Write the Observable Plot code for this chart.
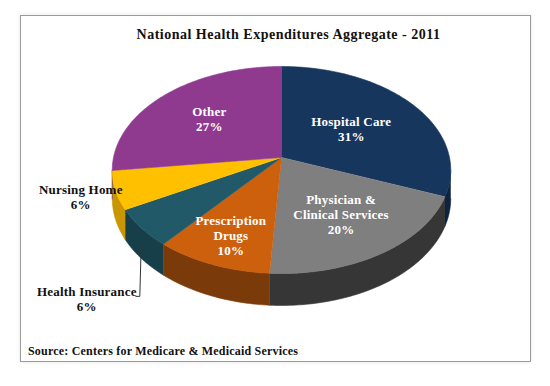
<!DOCTYPE html>
<html><head><meta charset="utf-8">
<script src="https://cdn.jsdelivr.net/npm/d3@7"></script>
<script src="https://cdn.jsdelivr.net/npm/@observablehq/plot@0.6"></script>
<style>
body{margin:0;background:#fff;}
#wrap{position:relative;width:550px;height:386px;overflow:hidden;font-family:"Liberation Serif",serif;}
#frame{position:absolute;left:20px;top:15px;width:511px;height:347px;box-sizing:border-box;border:1.5px solid #9a9a9a;box-shadow:0 0 4px rgba(0,0,0,0.10);}
#title{position:absolute;left:0;width:577px;top:27px;text-align:center;font-weight:bold;font-size:14px;letter-spacing:0.5px;color:#111;}
#source{position:absolute;left:28px;top:344px;font-weight:bold;font-size:12px;letter-spacing:0.2px;color:#111;}
#chart{position:absolute;left:0;top:0;}
#chart text{letter-spacing:0.2px;}
</style></head><body>
<div id="wrap"><div id="frame"></div><div id="title">National Health Expenditures Aggregate - 2011</div><div id="chart"></div><div id="source">Source: Centers for Medicare &amp; Medicaid Services</div></div>
<script>
// ---- data ----
const categories = ["Hospital Care", "Physician &\nClinical Services", "Prescription\nDrugs", "Health Insurance", "Nursing Home", "Other"];
const shares = [31, 20, 10, 6, 6, 27];
const topColors = ["#17365D", "#7F7F7F", "#CD600C", "#215968", "#FFC000", "#8F3A8F"];
const sideColors = ["#0E2340", "#363636", "#7A3A0A", "#173F49", "#C99600", "#5E255E"];
const labelColors = ["#ffffff", "#ffffff", "#ffffff", "#111111", "#111111", "#ffffff"];
// label placement (radius in pie units, optional angle override in degrees)
const labelRadius = [0.52, 0.62, 0.75, 1.545, 1.2, 0.6];
const labelAngle = [null, null, null, 220, null, null];

// ---- 3D perspective pie model ----
const persp = 0.1208;     // perspective strength
const thick = 0.2755;     // thickness in v units
const rad = Math.PI / 180;
function proj(theta, r = 1, drop = 0) {
  const X = r * Math.sin(theta * rad), Z = r * Math.cos(theta * rad);
  const d = 1 + persp * Z;
  return {u: X / d, v: (Z - drop) / d};
}
const visA = Math.acos(-persp) / rad, visB = 360 - visA;

const total = d3.sum(shares);
let acc = 0;
const slices = shares.map((s, i) => {
  const a0 = acc / total * 360; acc += s;
  const a1 = acc / total * 360;
  return {i, a0, a1, mid: (a0 + a1) / 2};
});

const topPts = [], sidePts = [];
for (const sl of slices) {
  const key = "top" + sl.i;
  topPts.push({key, color: topColors[sl.i], ...proj(0, 0)});
  const n = Math.max(2, Math.ceil(sl.a1 - sl.a0));
  for (let k = 0; k <= n; k++) topPts.push({key, color: topColors[sl.i], ...proj(sl.a0 + (sl.a1 - sl.a0) * k / n)});
  const s0 = Math.max(sl.a0, visA), s1 = Math.min(sl.a1, visB);
  if (s1 > s0) {
    const skey = "side" + sl.i, m = Math.max(2, Math.ceil(s1 - s0));
    for (let k = 0; k <= m; k++) sidePts.push({key: skey, color: sideColors[sl.i], ...proj(s0 + (s1 - s0) * k / m)});
    for (let k = m; k >= 0; k--) sidePts.push({key: skey, color: sideColors[sl.i], ...proj(s0 + (s1 - s0) * k / m, 1, thick)});
  }
}

const labels = slices.map(sl => {
  const ang = labelAngle[sl.i] ?? sl.mid;
  return {text: categories[sl.i] + "\n" + shares[sl.i] + "%", color: labelColors[sl.i], ...proj(ang, labelRadius[sl.i])};
});

// leader line for Health Insurance
const pxU = 168, pxV = 102;
const hi = 3, hl = labels[hi], hs = slices[hi];
const tip = proj(hs.mid, 1, thick * 0.5);
const leader = [
  {u: hl.u + 49 / pxU, v: hl.v + 2 / pxV},
  {u: hl.u + 53 / pxU, v: hl.v + 2 / pxV},
  {u: tip.u, v: tip.v}
];

const chart = Plot.plot({
  width: 550, height: 386, margin: 0,
  x: {domain: [-1, 1], range: [113, 449], axis: null},
  y: {domain: [-1, 1], range: [259, 55], axis: null},
  color: {type: "identity"},
  marks: [
    Plot.line(sidePts, {x: "u", y: "v", z: "key", fill: "color", stroke: "color", strokeWidth: 0.6, curve: "linear"}),
    Plot.line(topPts, {x: "u", y: "v", z: "key", fill: "color", stroke: "color", strokeWidth: 0.6, curve: "linear"}),
    Plot.line(leader, {x: "u", y: "v", stroke: "#333", strokeWidth: 1}),
    Plot.text(labels, {x: "u", y: "v", text: "text", fill: "color", fontSize: 13, fontWeight: "bold", fontFamily: "Liberation Serif", lineHeight: 1.15})
  ]
});
chart.style.background = "transparent";
document.getElementById("chart").append(chart);
</script>
</body></html>
